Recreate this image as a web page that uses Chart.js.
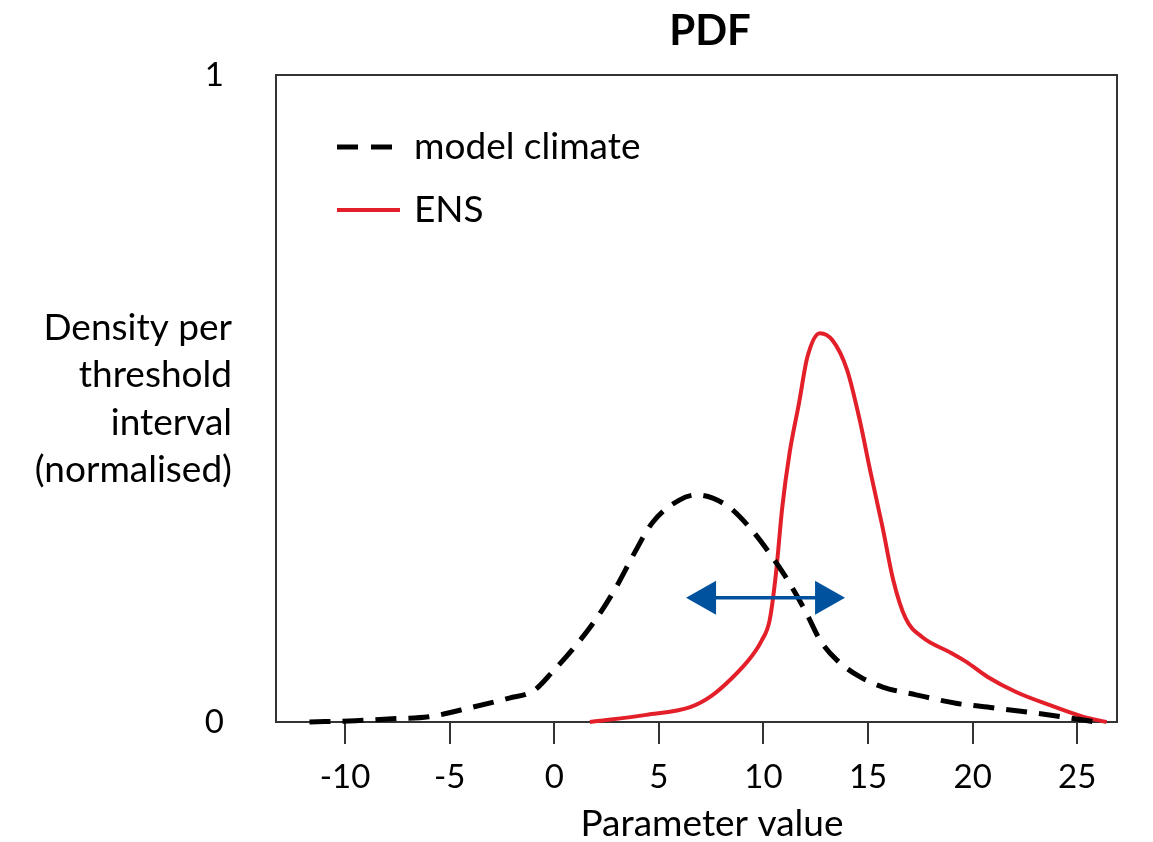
<!DOCTYPE html>
<html>
<head>
<meta charset="utf-8">
<title>PDF</title>
<script src="https://cdn.jsdelivr.net/npm/chart.js@4/dist/chart.umd.min.js"></script>
<style>
  body { margin: 0; background: #fff; }
  #wrap { width: 1153px; height: 842px; }
</style>
</head>
<body>
<div id="wrap"><canvas id="pdfChart"></canvas></div>
<script>
// model climate (dashed) and ENS (red) density curves, normalised
var climateX = [-11.7, -9.5, -7.75, -6.0, -3.9, -2.15, -1.0, -0.1, 1.05, 2.06, 2.97, 3.83, 4.69, 5.98, 6.8, 8.23, 9.33, 10.29, 11.24, 12.06, 12.7, 13.5, 14.6, 15.7, 17.3, 19.2, 20.96, 22.7, 24.3, 25.9];
var climateY = [0.0, 0.002, 0.005, 0.008, 0.023, 0.037, 0.048, 0.077, 0.119, 0.162, 0.209, 0.261, 0.308, 0.343, 0.351, 0.335, 0.301, 0.261, 0.215, 0.168, 0.127, 0.096, 0.070, 0.054, 0.042, 0.029, 0.022, 0.015, 0.008, 0.0];

var ensX = [1.7, 4.4, 6.5, 7.5, 8.5, 9.4, 9.9, 10.3, 10.6, 10.9, 11.25, 11.7, 12.1, 12.7, 13.3, 14.0, 14.6, 15.1, 15.7, 16.2, 16.8, 17.6, 18.9, 19.7, 20.7, 22.1, 23.7, 25.3, 26.4];
var ensY = [0.0, 0.011, 0.023, 0.040, 0.068, 0.100, 0.125, 0.158, 0.230, 0.332, 0.416, 0.493, 0.564, 0.601, 0.590, 0.544, 0.467, 0.389, 0.300, 0.220, 0.160, 0.131, 0.108, 0.093, 0.070, 0.046, 0.026, 0.008, 0.0];

var xTicks = [-10, -5, 0, 5, 10, 15, 20, 25];
var yTicks = [0, 1];
var seriesNames = ['model climate', 'ENS'];

// shift between the two distributions (double arrow)
var shiftFrom = 6.3;
var shiftTo = 13.9;
var shiftLevel = 0.192;

var FONT = 'Lato, "Open Sans", sans-serif';
var RED = '#e3202a';
var BLUE = '#00519e';

function toPoints(xs, ys) {
  return xs.map(function(x, i){ return { x: x, y: ys[i] }; });
}

var extrasPlugin = {
  id: 'pdfExtras',
  beforeDatasetsDraw: function(chart) {
    var ctx = chart.ctx, a = chart.chartArea;
    ctx.save();
    ctx.strokeStyle = '#333';
    ctx.lineWidth = 2;
    ctx.strokeRect(a.left, a.top, a.right - a.left, a.bottom - a.top);
    ctx.restore();
  },
  afterDatasetsDraw: function(chart) {
    var ctx = chart.ctx;
    var xs = chart.scales.x, ys = chart.scales.y;
    var x1 = xs.getPixelForValue(shiftFrom);
    var x2 = xs.getPixelForValue(shiftTo);
    var y = ys.getPixelForValue(shiftLevel);
    var head = 30, half = 17;
    ctx.save();
    ctx.strokeStyle = BLUE;
    ctx.fillStyle = BLUE;
    ctx.lineWidth = 3.5;
    ctx.beginPath();
    ctx.moveTo(x1 + head - 2, y);
    ctx.lineTo(x2 - head + 2, y);
    ctx.stroke();
    ctx.beginPath();
    ctx.moveTo(x1, y);
    ctx.lineTo(x1 + head, y - half);
    ctx.lineTo(x1 + head, y + half);
    ctx.closePath();
    ctx.fill();
    ctx.beginPath();
    ctx.moveTo(x2, y);
    ctx.lineTo(x2 - head, y - half);
    ctx.lineTo(x2 - head, y + half);
    ctx.closePath();
    ctx.fill();
    ctx.restore();
  },
  afterDraw: function(chart) {
    var ctx = chart.ctx;
    ctx.save();
    ctx.fillStyle = '#000';
    ctx.textBaseline = 'middle';

    // title
    ctx.font = 'bold 42px ' + FONT;
    ctx.textAlign = 'center';
    ctx.fillText('PDF', 710, 31);

    // x axis title
    ctx.font = '37px ' + FONT;
    ctx.fillText('Parameter value', 712, 824);

    // y axis title, horizontal and right aligned
    ctx.textAlign = 'right';
    var lines = ['Density per', 'threshold', 'interval', '(normalised)'];
    lines.forEach(function(t, i){ ctx.fillText(t, 232, 328 + i * 47.5); });

    // legend
    var items = [
      { label: seriesNames[0], color: '#000', dash: [21, 13], y: 147 },
      { label: seriesNames[1], color: RED, dash: [], y: 210 }
    ];
    items.forEach(function(it){
      ctx.strokeStyle = it.color;
      ctx.lineWidth = it.dash.length ? 5 : 4;
      ctx.setLineDash(it.dash);
      ctx.beginPath();
      ctx.moveTo(337, it.y);
      ctx.lineTo(400, it.y);
      ctx.stroke();
      ctx.setLineDash([]);
      ctx.textAlign = 'left';
      ctx.font = '37px ' + FONT;
      ctx.fillText(it.label, 414, it.y);
    });
    ctx.restore();
  }
};

Chart.defaults.font.family = FONT;
Chart.defaults.color = '#000';

var ctx = document.getElementById('pdfChart').getContext('2d');
var pdfChart = new Chart(ctx, {
  type: 'line',
  data: {
    datasets: [
      {
        label: seriesNames[0],
        data: toPoints(climateX, climateY),
        borderColor: '#000',
        borderWidth: 5,
        borderDash: [21, 12],
        pointRadius: 0,
        cubicInterpolationMode: 'monotone',
        fill: false,
        clip: false
      },
      {
        label: seriesNames[1],
        data: toPoints(ensX, ensY),
        borderColor: RED,
        borderWidth: 4,
        pointRadius: 0,
        cubicInterpolationMode: 'monotone',
        fill: false,
        clip: false
      }
    ]
  },
  options: {
    responsive: true,
    maintainAspectRatio: false,
    animation: false,
    layout: { padding: { top: 75, right: 36, left: 0, bottom: 0 } },
    plugins: {
      legend: { display: false },
      title: { display: false },
      tooltip: { enabled: false }
    },
    scales: {
      x: {
        type: 'linear',
        min: -13.3,
        max: 26.9,
        afterBuildTicks: function(s){ s.ticks = xTicks.map(function(v){ return { value: v }; }); },
        afterFit: function(s){ s.height = 120; },
        border: { display: false },
        grid: { drawOnChartArea: false, drawTicks: true, tickLength: 22, color: '#333', lineWidth: 2 },
        ticks: { font: { size: 33 }, padding: 14, maxRotation: 0 }
      },
      y: {
        min: 0,
        max: 1,
        afterBuildTicks: function(s){ s.ticks = yTicks.map(function(v){ return { value: v }; }); },
        afterFit: function(s){ s.width = 276; },
        border: { display: false },
        grid: { display: false },
        ticks: { font: { size: 33 }, padding: 44 }
      }
    }
  },
  plugins: [extrasPlugin]
});
</script>
</body>
</html>
